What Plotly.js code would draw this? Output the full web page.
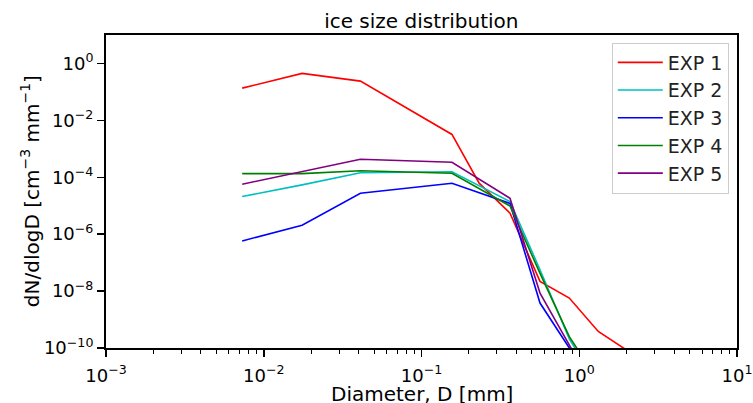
<!DOCTYPE html>
<html>
<head>
<meta charset="utf-8">
<script src="https://cdn.plot.ly/plotly-3.0.1.min.js"></script>
<style>html,body{margin:0;padding:0;background:#fff;}#chart{width:753px;height:403px;}</style>
</head>
<body>
<div id="chart"></div>
<script>
// Diameter bins [mm]
const diameter = [0.0073, 0.0175, 0.041, 0.156, 0.364, 0.564, 0.865, 1.32, 2.0];
const diameterExp1 = [0.0073, 0.0175, 0.041, 0.156, 0.232, 0.364, 0.564, 0.865, 1.32, 2.0];
// dN/dlogD [cm^-3 mm^-1]
const exp1 = [0.136, 0.446, 0.239, 3.2e-3, 6.2e-5, 5.5e-6, 2.2e-8, 5.7e-9, 3.8e-10, 8.4e-11];
const exp2 = [2.1e-5, 5.4e-5, 1.45e-4, 1.57e-4, 1.4e-5, 5.6e-8, 2.1e-10, 5e-12, 1e-13];
const exp3 = [5.8e-7, 2.07e-6, 2.75e-5, 6.15e-5, 1.2e-5, 3.8e-9, 1.0e-10, 1e-12, 1e-13];
const exp4 = [1.34e-4, 1.34e-4, 1.7e-4, 1.38e-4, 9.8e-6, 4.2e-8, 2.5e-10, 7e-12, 1e-13];
const exp5 = [5.7e-5, 1.57e-4, 4.3e-4, 3.36e-4, 1.83e-5, 8.5e-9, 1.4e-10, 2e-12, 1e-13];
const seriesNames = ['EXP 1', 'EXP 2', 'EXP 3', 'EXP 4', 'EXP 5'];
const seriesColors = ['#ff0000', '#00bfbf', '#0000ff', '#008000', '#800080'];
const xTickVals = [1e-3, 1e-2, 1e-1, 1, 10];
const xTickText = ['10<sup>−3</sup>', '10<sup>−2</sup>', '10<sup>−1</sup>', '10<sup>0</sup>', '10<sup>1</sup>'];
const yTickVals = [1e-10, 1e-8, 1e-6, 1e-4, 1e-2, 1];
const yTickText = ['10<sup>−10</sup>', '10<sup>−8</sup>', '10<sup>−6</sup>', '10<sup>−4</sup>', '10<sup>−2</sup>', '10<sup>0</sup>'];
const xTitle = 'Diameter, D [mm]';
const yTitle = 'dN/dlogD [cm<sup>−3</sup> mm<sup>−1</sup>]';

const xs = [diameterExp1, diameter, diameter, diameter, diameter];
const ys = [exp1, exp2, exp3, exp4, exp5];
const traces = ys.map((y, i) => ({
  x: xs[i], y: y, type: 'scatter', mode: 'lines', name: seriesNames[i],
  line: {color: seriesColors[i], width: 1.6}
}));

const font = 'DejaVu Sans, sans-serif';
const layout = {
  width: 753, height: 403,
  margin: {l: 106, r: 16, t: 35, b: 55},
  paper_bgcolor: '#fff', plot_bgcolor: '#fff',
  font: {family: font, size: 18, color: '#000'},
  title: {text: 'ice size distribution', font: {family: font, size: 20, color: '#000'}, x: 0.5595, xanchor: 'center', y: 0.948, yanchor: 'middle'},
  showlegend: true,
  legend: {x: 0.987, y: 0.976, xanchor: 'right', yanchor: 'top', bgcolor: 'rgba(255,255,255,0.8)', bordercolor: '#cccccc', borderwidth: 1, font: {family: font, size: 19, color: '#222'}, itemwidth: 45},
  xaxis: {
    type: 'log', range: [-3, 1],
    tickmode: 'array', tickvals: xTickVals, ticktext: xTickText,
    ticks: 'outside', ticklen: 7, tickwidth: 1.5, tickcolor: '#000',
    ticklabelstandoff: 3,
    minor: {ticks: 'outside', ticklen: 4, tickwidth: 1, tickcolor: '#000', dtick: 'D1'},
    showline: true, linecolor: '#000', linewidth: 2, mirror: true,
    showgrid: false, zeroline: false,
    tickfont: {family: font, size: 18, color: '#000'}
  },
  yaxis: {
    type: 'log', range: [-10, 1],
    tickmode: 'array', tickvals: yTickVals, ticktext: yTickText,
    ticks: 'outside', ticklen: 7, tickwidth: 1.5, tickcolor: '#000',
    showline: true, linecolor: '#000', linewidth: 2, mirror: true,
    showgrid: false, zeroline: false,
    tickfont: {family: font, size: 18, color: '#000'}
  },
  annotations: [
    {text: xTitle, xref: 'paper', yref: 'paper', x: 0.5, y: -0.146, xanchor: 'center', yanchor: 'middle', showarrow: false, font: {family: font, size: 20, color: '#000'}},
    {text: yTitle, xref: 'paper', yref: 'paper', x: -0.121, y: 0.5, xanchor: 'center', yanchor: 'middle', textangle: -90, showarrow: false, font: {family: font, size: 20, color: '#000'}}
  ]
};
Plotly.newPlot('chart', traces, layout, {staticPlot: true, displayModeBar: false});
</script>
</body>
</html>
